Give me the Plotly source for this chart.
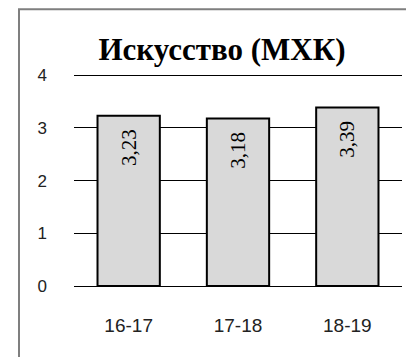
import plotly.graph_objects as go

categories = ["16-17", "17-18", "18-19"]
values = [3.23, 3.18, 3.39]
labels = ["3,23", "3,18", "3,39"]
y_ticks = [0, 1, 2, 3, 4]

# page body has an 8px margin; compensate
OFF = 8
Y_MAX = 4.1
UNIT = 211 / 4
W, H = 414 - OFF, 357 - OFF
pw = 328
ph = UNIT * Y_MAX
L = 74 - OFF
T = (286 - ph) - OFF
B = H - T - ph
R = W - L - pw

def px_x(px):
    return (px - OFF - L) / pw

def px_y(py):
    return (T + ph - (py - OFF)) / ph

pad = "\u00a0\u00a0"
fig = go.Figure()
fig.add_trace(go.Bar(
    x=categories, y=values, text=[t + pad for t in labels],
    textposition="inside", insidetextanchor="end", textangle=-90,
    textfont=dict(family="Liberation Serif", size=21, color="black"),
    marker=dict(color="#d9d9d9", line=dict(color="black", width=2)),
    width=0.57, cliponaxis=False,
))

fig.update_layout(
    width=W, height=H,
    margin=dict(l=L, r=R, t=T, b=B),
    paper_bgcolor="white", plot_bgcolor="white",
    showlegend=False,
    title=dict(text="<b>Искусство (МХК)</b>", x=(222 - OFF) / W, xanchor="center",
               y=1 - (49 - OFF) / H, yanchor="middle",
               font=dict(family="Liberation Serif", size=31, color="black")),
    xaxis=dict(showgrid=False, showline=False, ticks="", zeroline=False,
               tickfont=dict(family="Liberation Sans", size=19, color="#222222"),
               ticklabelstandoff=26),
    yaxis=dict(range=[0, Y_MAX], tickvals=y_ticks, showgrid=True, gridcolor="black", gridwidth=1,
               zeroline=True, zerolinecolor="black", zerolinewidth=1, showline=False,
               tickfont=dict(family="Liberation Sans", size=17, color="#222222"),
               ticklabelstandoff=26),
    shapes=[dict(type="rect", xref="paper", yref="paper",
                 x0=px_x(19), x1=px_x(700), y0=px_y(700), y1=px_y(9),
                 line=dict(color="#7f7f7f", width=2), fillcolor="rgba(0,0,0,0)", layer="below")],
)

fig.write_html("out.html")
